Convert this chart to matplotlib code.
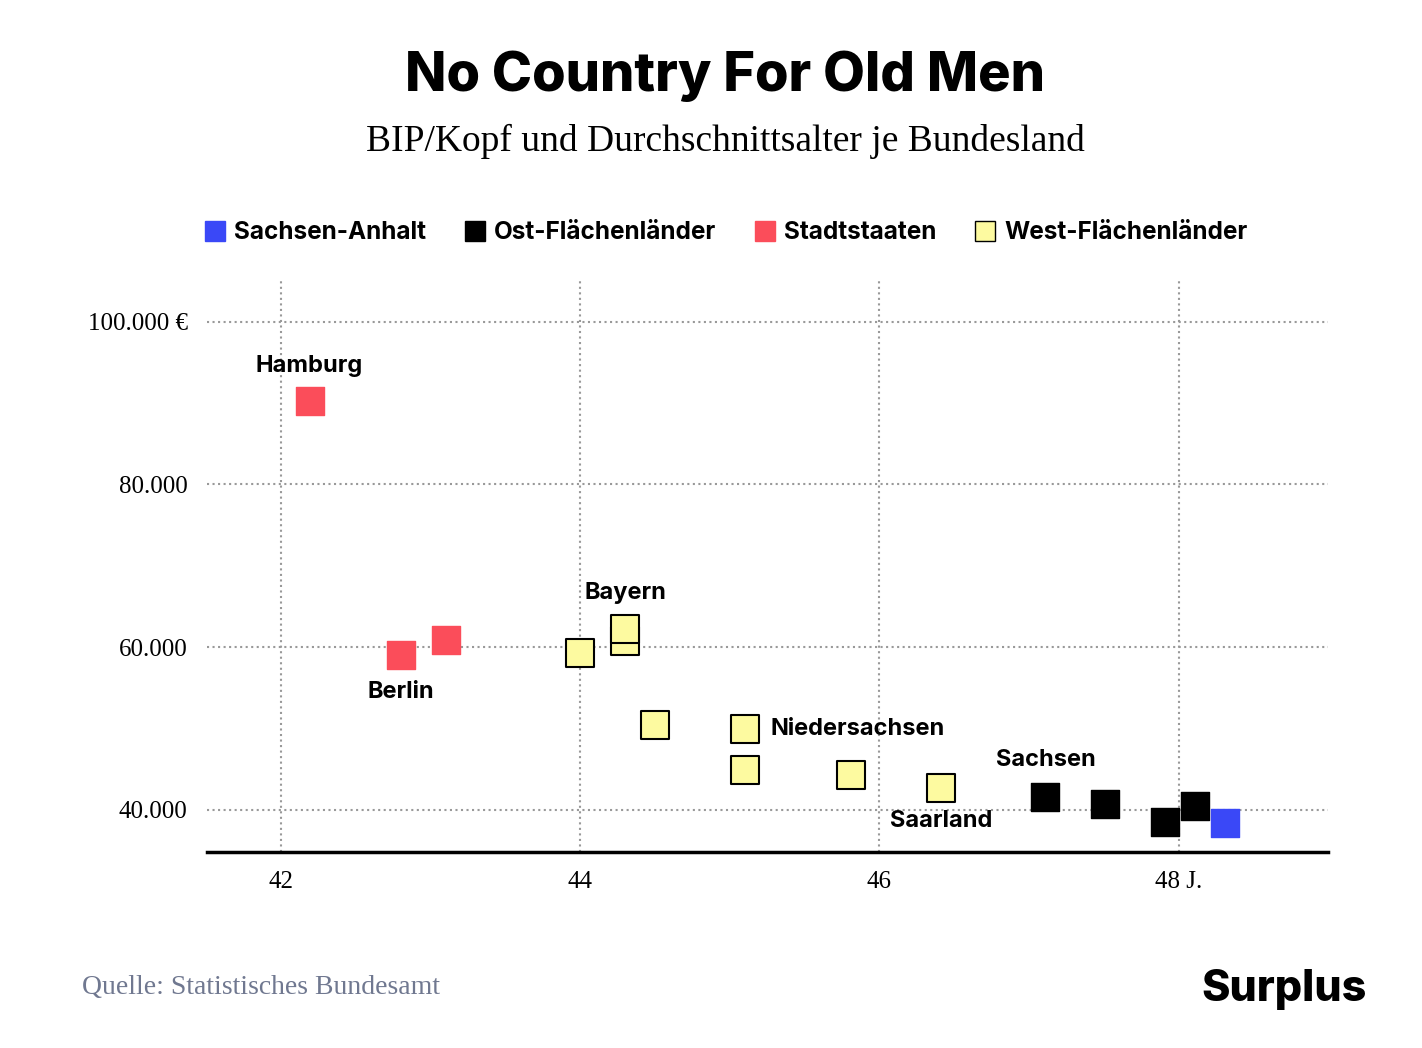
import matplotlib.pyplot as plt
from matplotlib.lines import Line2D

# Data: (Durchschnittsalter, BIP/Kopf)
stadt_x = [42.19, 42.80, 43.10]
stadt_y = [90200, 59100, 60900]
west_x = [44.0, 44.30, 44.30, 44.50, 45.10, 45.10, 45.81, 46.41]
west_y = [59300, 60800, 62200, 50500, 50000, 44900, 44300, 42700]
ost_x = [47.11, 47.51, 47.91, 48.11]
ost_y = [41600, 40700, 38500, 40500]
sa_x = [48.31]
sa_y = [38400]

labels = {"Hamburg": (42.19, 94500, "center"), "Berlin": (42.80, 54500, "center"),
          "Bayern": (44.30, 66600, "center"), "Niedersachsen": (45.27, 49900, "left"),
          "Sachsen": (47.11, 46100, "center"), "Saarland": (46.41, 38600, "center")}

bold = ["Inter", "Roboto", "DejaVu Sans"]
serif = ["Liberation Serif", "DejaVu Serif"]

fig = plt.figure(figsize=(14.22, 10.48), dpi=100)
ax = fig.add_axes([0.1456, 0.187, 0.934 - 0.1456, 0.732 - 0.187])

ms = 420
ax.scatter(stadt_x, stadt_y, marker='s', s=ms, color='#fb4d5a', zorder=3)
ax.scatter(west_x, west_y, marker='s', s=ms, color='#fdfaa0', edgecolor='black', linewidth=1.5, zorder=3)
ax.scatter(ost_x, ost_y, marker='s', s=ms, color='black', zorder=3)
ax.scatter(sa_x, sa_y, marker='s', s=ms, color='#3a48f7', zorder=3)

for name, (x, y, ha) in labels.items():
    ax.text(x, y, name, ha=ha, va='center', fontsize=17, fontweight='bold', family=bold)

ax.set_xlim(41.505, 49.0)
ax.set_ylim(34836, 105000)
ax.set_xticks([42, 44, 46, 48])
ax.set_xticklabels(["42", "44", "46", "48 J."])
ax.set_yticks([40000, 60000, 80000, 100000])
ax.set_yticklabels(["40.000", "60.000", "80.000", "100.000 €"])
for t in ax.get_xticklabels() + ax.get_yticklabels():
    t.set_family(serif)
    t.set_fontsize(18)
ax.tick_params(length=0, pad=14)
ax.grid(True, linestyle=':', color='#999999', linewidth=1.5)
for s in ['top', 'right', 'left']:
    ax.spines[s].set_visible(False)
ax.spines['bottom'].set_linewidth(2.5)

fig.text(0.51, 0.927, "No Country For Old Men", ha='center', va='center',
         fontsize=39, fontweight='heavy', family=bold)
fig.text(0.51, 0.865, "BIP/Kopf und Durchschnittsalter je Bundesland", ha='center',
         va='center', fontsize=27, family=serif)

handles = [Line2D([], [], marker='s', linestyle='', markersize=15, color='#3a48f7'),
           Line2D([], [], marker='s', linestyle='', markersize=15, color='black'),
           Line2D([], [], marker='s', linestyle='', markersize=15, color='#fb4d5a'),
           Line2D([], [], marker='s', linestyle='', markersize=15, markerfacecolor='#fdfaa0',
                  markeredgecolor='black')]
leg = fig.legend(handles, ["Sachsen-Anhalt", "Ost-Flächenländer", "Stadtstaaten", "West-Flächenländer"],
                 loc='center', bbox_to_anchor=(0.51, 0.778), ncol=4, frameon=False,
                 handletextpad=0.3, columnspacing=1.5, handlelength=1.0,
                 prop={'family': bold, 'weight': 'bold', 'size': 17.5})

fig.text(0.058, 0.058, "Quelle: Statistisches Bundesamt", ha='left', va='center',
         fontsize=20, family=serif, color='#707890')
fig.text(0.961, 0.056, "Surplus", ha='right', va='center', fontsize=31,
         fontweight='heavy', family=bold)

fig.savefig("out.png", dpi=100, facecolor='white')
